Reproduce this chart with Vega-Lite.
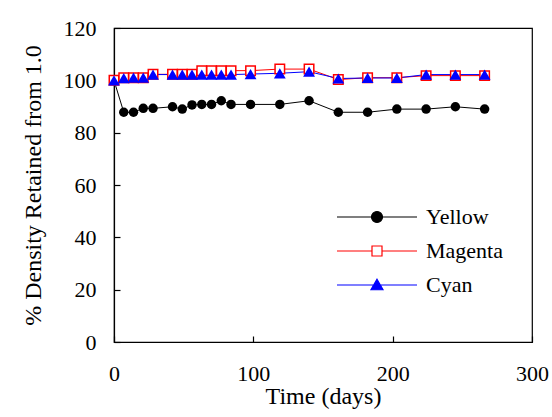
{
  "$schema": "https://vega.github.io/schema/vega-lite/v6.json",
  "width": 418,
  "height": 314,
  "autosize": "none",
  "padding": {"left": 114, "top": 28, "right": 20, "bottom": 75},
  "background": "white",
  "config": {
    "font": "Liberation Serif",
    "view": {"stroke": "black", "strokeWidth": 1.2},
    "axis": {
      "grid": false,
      "zindex": 1,
      "domainColor": "black",
      "domainWidth": 1.2,
      "tickColor": "black",
      "tickWidth": 1.2,
      "tickSize": -6,
      "labelFont": "Liberation Serif",
      "labelFontSize": 22,
      "labelColor": "black",
      "labelFlush": false,
      "titleFont": "Liberation Serif",
      "titleFontSize": 24,
      "titleFontWeight": "normal",
      "titleColor": "black"
    }
  },
  "data": {
    "values": [
      {"t": 0, "series": "Yellow", "v": 100},
      {"t": 7, "series": "Yellow", "v": 87.8},
      {"t": 14, "series": "Yellow", "v": 87.8},
      {"t": 21, "series": "Yellow", "v": 89.3},
      {"t": 28, "series": "Yellow", "v": 89.3},
      {"t": 42, "series": "Yellow", "v": 89.9},
      {"t": 49, "series": "Yellow", "v": 89.0},
      {"t": 56, "series": "Yellow", "v": 90.6},
      {"t": 63, "series": "Yellow", "v": 90.8},
      {"t": 70, "series": "Yellow", "v": 90.8},
      {"t": 77, "series": "Yellow", "v": 92.2},
      {"t": 84, "series": "Yellow", "v": 90.8},
      {"t": 98, "series": "Yellow", "v": 90.8},
      {"t": 119, "series": "Yellow", "v": 90.8},
      {"t": 140, "series": "Yellow", "v": 92.2},
      {"t": 161, "series": "Yellow", "v": 87.8},
      {"t": 182, "series": "Yellow", "v": 87.8},
      {"t": 203, "series": "Yellow", "v": 89.0},
      {"t": 224, "series": "Yellow", "v": 89.0},
      {"t": 245, "series": "Yellow", "v": 89.9},
      {"t": 266, "series": "Yellow", "v": 89.0},
      {"t": 0, "series": "Magenta", "v": 100},
      {"t": 7, "series": "Magenta", "v": 101.0},
      {"t": 14, "series": "Magenta", "v": 101.0},
      {"t": 21, "series": "Magenta", "v": 101.0},
      {"t": 28, "series": "Magenta", "v": 102.3},
      {"t": 42, "series": "Magenta", "v": 102.3},
      {"t": 49, "series": "Magenta", "v": 102.3},
      {"t": 56, "series": "Magenta", "v": 102.3},
      {"t": 63, "series": "Magenta", "v": 103.7},
      {"t": 70, "series": "Magenta", "v": 103.7},
      {"t": 77, "series": "Magenta", "v": 103.7},
      {"t": 84, "series": "Magenta", "v": 103.7},
      {"t": 98, "series": "Magenta", "v": 103.7},
      {"t": 119, "series": "Magenta", "v": 104.3},
      {"t": 140, "series": "Magenta", "v": 104.3},
      {"t": 161, "series": "Magenta", "v": 100.3},
      {"t": 182, "series": "Magenta", "v": 101.0},
      {"t": 203, "series": "Magenta", "v": 101.0},
      {"t": 224, "series": "Magenta", "v": 101.8},
      {"t": 245, "series": "Magenta", "v": 101.8},
      {"t": 266, "series": "Magenta", "v": 101.8},
      {"t": 0, "series": "Cyan", "v": 100},
      {"t": 7, "series": "Cyan", "v": 100.8},
      {"t": 14, "series": "Cyan", "v": 101.0},
      {"t": 21, "series": "Cyan", "v": 101.0},
      {"t": 28, "series": "Cyan", "v": 102.2},
      {"t": 42, "series": "Cyan", "v": 102.2},
      {"t": 49, "series": "Cyan", "v": 102.2},
      {"t": 56, "series": "Cyan", "v": 102.2},
      {"t": 63, "series": "Cyan", "v": 102.2},
      {"t": 70, "series": "Cyan", "v": 102.2},
      {"t": 77, "series": "Cyan", "v": 102.2},
      {"t": 84, "series": "Cyan", "v": 102.2},
      {"t": 98, "series": "Cyan", "v": 102.4},
      {"t": 119, "series": "Cyan", "v": 102.7},
      {"t": 140, "series": "Cyan", "v": 103.3},
      {"t": 161, "series": "Cyan", "v": 100.7},
      {"t": 182, "series": "Cyan", "v": 100.9},
      {"t": 203, "series": "Cyan", "v": 100.9},
      {"t": 224, "series": "Cyan", "v": 102.2},
      {"t": 245, "series": "Cyan", "v": 102.2},
      {"t": 266, "series": "Cyan", "v": 102.2}
    ]
  },
  "encoding": {
    "x": {
      "field": "t", "type": "quantitative",
      "scale": {"domain": [0, 300], "nice": false, "zero": false},
      "axis": {"values": [0, 100, 200, 300], "title": "Time (days)", "labelPadding": 27, "titlePadding": 0}
    },
    "y": {
      "field": "v", "type": "quantitative",
      "scale": {"domain": [0, 120], "nice": false},
      "axis": {"values": [0, 20, 40, 60, 80, 100, 120], "title": "% Density Retained from 1.0", "labelPadding": 24, "titlePadding": 18}
    }
  },
  "layer": [
    {
      "mark": {"type": "line", "strokeWidth": 1},
      "encoding": {
        "color": {
          "field": "series", "type": "nominal",
          "scale": {"domain": ["Yellow", "Magenta", "Cyan"], "range": ["black", "red", "blue"]},
          "legend": {
            "title": null,
            "orient": "none",
            "legendX": 252,
            "legendY": 178,
            "symbolSize": 100,
            "labelFont": "Liberation Serif",
            "labelFontSize": 22,
            "labelColor": "black",
            "labelOffset": 38,
            "rowPadding": 12,
            "encode": {
              "symbols": {
                "update": {
                  "shape": {"signal": "datum.value === 'Yellow' ? 'M-8,0H8M-1.1,0A1.1,1.1,0,1,0,1.1,0A1.1,1.1,0,1,0,-1.1,0Z' : datum.value === 'Magenta' ? 'M-8,0H-1M1,0H8M-1,-1H1V1H-1Z' : 'M-8,0H8M0,-1.15L1.2,0.95H-1.2Z'"},
                  "fill": {"signal": "datum.value === 'Yellow' ? 'black' : datum.value === 'Magenta' ? 'white' : 'blue'"},
                  "stroke": {"signal": "datum.value === 'Yellow' ? 'black' : datum.value === 'Magenta' ? 'red' : 'blue'"},
                  "strokeWidth": {"value": 1.2},
                  "opacity": {"value": 1},
                  "fillOpacity": {"value": 1}
                }
              }
            }
          }
        },
        "detail": {"field": "series"}
      }
    },
    {
      "transform": [{"filter": "datum.series === 'Yellow'"}],
      "mark": {"type": "point", "shape": "circle", "filled": true, "color": "black", "opacity": 1, "size": 90}
    },
    {
      "transform": [{"filter": "datum.series === 'Magenta'"}],
      "mark": {"type": "point", "shape": "square", "filled": false, "fill": "white", "stroke": "red", "strokeWidth": 1.5, "opacity": 1, "size": 90}
    },
    {
      "transform": [{"filter": "datum.series === 'Cyan'"}],
      "mark": {"type": "point", "shape": "triangle-up", "filled": true, "color": "blue", "opacity": 1, "size": 140}
    }
  ]
}
